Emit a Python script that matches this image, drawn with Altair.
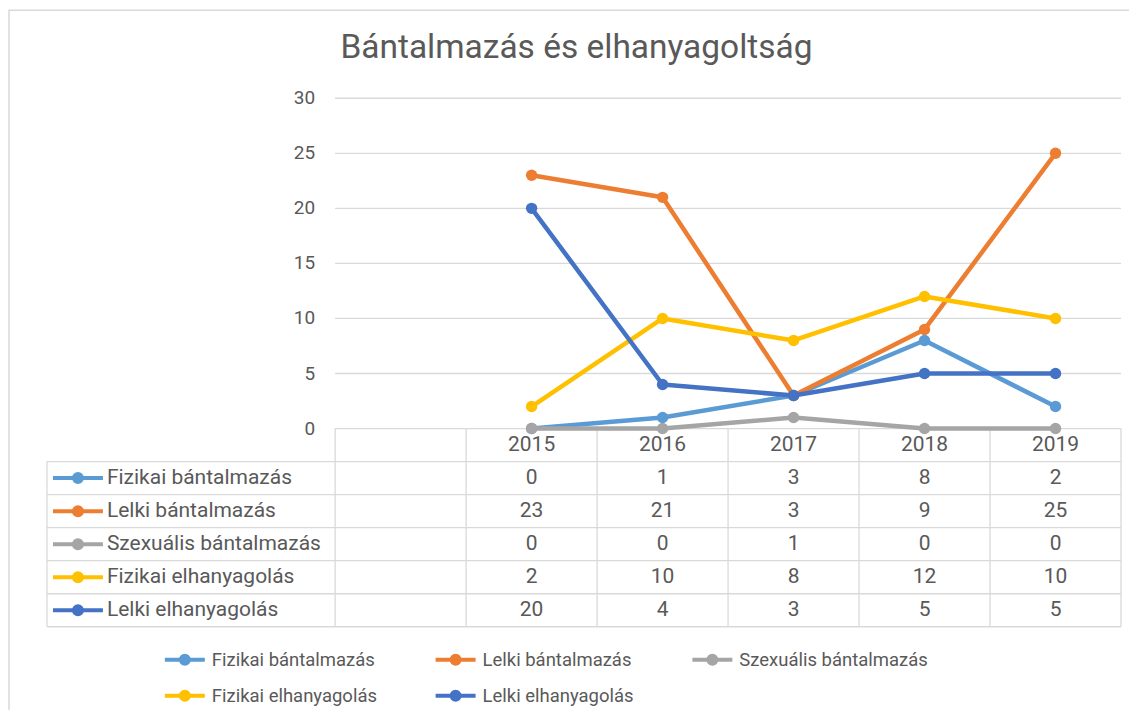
import altair as alt
import pandas as pd

# ---------------- data ----------------
title_text = "Bántalmazás és elhanyagoltság"
years = ["2015", "2016", "2017", "2018", "2019"]
series_names = [
    "Fizikai bántalmazás",
    "Lelki bántalmazás",
    "Szexuális bántalmazás",
    "Fizikai elhanyagolás",
    "Lelki elhanyagolás",
]
fizikai_bantalmazas = [0, 1, 3, 8, 2]
lelki_bantalmazas = [23, 21, 3, 9, 25]
szexualis_bantalmazas = [0, 0, 1, 0, 0]
fizikai_elhanyagolas = [2, 10, 8, 12, 10]
lelki_elhanyagolas = [20, 4, 3, 5, 5]
series_values = [
    fizikai_bantalmazas,
    lelki_bantalmazas,
    szexualis_bantalmazas,
    fizikai_elhanyagolas,
    lelki_elhanyagolas,
]
y_ticks = [0, 5, 10, 15, 20, 25, 30]
colors = ["#5B9BD5", "#ED7D31", "#A5A5A5", "#FFC000", "#4472C4"]

# ---------------- layout constants ----------------
TEXT = "#595959"
GRID = "#D9D9D9"
FONT = "Roboto"
W, H = 1075, 529
LABEL_COLS = 2.2      # width of the table's label column, in category units
BLANK_COLS = 1        # empty category before the first year
ROW_H = 3             # table row height, in value units
ncols = BLANK_COLS + len(years)
nrows = len(series_names) + 1

xs = alt.Scale(domain=[-LABEL_COLS, ncols], nice=False, zero=False)
ys = alt.Scale(domain=[-ROW_H * nrows, y_ticks[-1]], nice=False, zero=False)
cs = alt.Scale(domain=series_names, range=colors)

# ---------------- tables built from the arrays ----------------
rows = []
for i, (s, vals) in enumerate(zip(series_names, series_values)):
    for j, (yr, v) in enumerate(zip(years, vals)):
        rows.append({"series": s, "year": yr, "value": v,
                     "xc": BLANK_COLS + j + 0.5,
                     "yc": -ROW_H * (i + 1) - ROW_H / 2,
                     "label": str(v)})
df = pd.DataFrame(rows)

seg = []
for t in y_ticks:
    seg.append(dict(x0=0, x1=ncols, y0=t, y1=t))
for r in range(1, nrows + 1):
    seg.append(dict(x0=-LABEL_COLS, x1=ncols, y0=-ROW_H * r, y1=-ROW_H * r))
seg.append(dict(x0=-LABEL_COLS, x1=-LABEL_COLS, y0=-ROW_H, y1=-ROW_H * nrows))
for c in range(0, ncols + 1):
    seg.append(dict(x0=c, x1=c, y0=0, y1=-ROW_H * nrows))
seg_df = pd.DataFrame(seg)

tick_df = pd.DataFrame({"y": y_ticks, "x": [0] * len(y_ticks),
                        "label": [str(t) for t in y_ticks]})
head_df = pd.DataFrame({"year": years,
                        "x": [BLANK_COLS + j + 0.5 for j in range(len(years))],
                        "y": [-ROW_H / 2] * len(years)})
lab_df = pd.DataFrame({"series": series_names,
                       "x": [-LABEL_COLS] * len(series_names),
                       "y": [-ROW_H * (i + 1) - ROW_H / 2 for i in range(len(series_names))]})

# legend / key symbol: a line with a dot (dot drawn as concentric rings)
LEG_PATH = ("M-1,0H1"
            "M0.2,0A0.2,0.2,0,1,1,-0.2,0A0.2,0.2,0,1,1,0.2,0"
            "M0.08,0A0.08,0.08,0,1,1,-0.08,0A0.08,0.08,0,1,1,0.08,0")
KEY_PATH = ("M-1,0H1"
            "M0.16,0A0.16,0.16,0,1,1,-0.16,0A0.16,0.16,0,1,1,0.16,0"
            "M0.06,0A0.06,0.06,0,1,1,-0.06,0A0.06,0.06,0,1,1,0.06,0")

leg = alt.Legend(
    title=None, orient="none", legendX=116, legendY=540,
    direction="horizontal", columns=3,
    symbolType=LEG_PATH, symbolSize=1600, symbolStrokeWidth=4,
    symbolFillColor="transparent",
    labelFontSize=18.5, labelColor=TEXT, labelFont=FONT, labelOffset=5,
    labelLimit=400,
    columnPadding=50, rowPadding=2, symbolOpacity=1,
)

# ---------------- layers ----------------
border = alt.Chart(pd.DataFrame({"k": [0]})).mark_rect(
    fill="transparent", stroke=GRID, strokeWidth=1.5
).encode(x=alt.value(-38), x2=alt.value(1300), y=alt.value(-88), y2=alt.value(900))

title_layer = alt.Chart(pd.DataFrame({"t": [title_text]})).mark_text(
    align="center", baseline="alphabetic", fontSize=33.5, font=FONT, color=TEXT
).encode(x=alt.value(530), y=alt.value(-40), text="t:N")

lines_layer = alt.Chart(seg_df).mark_rule(color=GRID, strokeWidth=1.3).encode(
    x=alt.X("x0:Q", scale=xs, axis=None), x2="x1:Q",
    y=alt.Y("y0:Q", scale=ys, axis=None), y2="y1:Q",
)

ticks_layer = alt.Chart(tick_df).mark_text(
    align="right", baseline="middle", dx=-20, fontSize=19, font=FONT, color=TEXT
).encode(x=alt.X("x:Q", scale=xs, axis=None), y=alt.Y("y:Q", scale=ys, axis=None), text="label:N")

head_layer = alt.Chart(head_df).mark_text(
    align="center", baseline="middle", fontSize=21, font=FONT, color=TEXT
).encode(x=alt.X("x:Q", scale=xs, axis=None), y=alt.Y("y:Q", scale=ys, axis=None), text="year:N")

cell_layer = alt.Chart(df).mark_text(
    align="center", baseline="middle", fontSize=21, font=FONT, color=TEXT
).encode(x=alt.X("xc:Q", scale=xs, axis=None), y=alt.Y("yc:Q", scale=ys, axis=None), text="label:N")

lab_layer = alt.Chart(lab_df).mark_text(
    align="left", baseline="middle", dx=60, fontSize=21, font=FONT, color=TEXT
).encode(x=alt.X("x:Q", scale=xs, axis=None), y=alt.Y("y:Q", scale=ys, axis=None), text="series:N")

key_layer = alt.Chart(lab_df).mark_point(
    shape=KEY_PATH, size=2500, filled=False, strokeWidth=4, opacity=1
).encode(x=alt.value(31), y=alt.Y("y:Q", scale=ys, axis=None),
         color=alt.Color("series:N", scale=cs, legend=leg))

series_layers = []
for s in series_names:
    base = alt.Chart(df).transform_filter(alt.datum.series == s)
    ln = base.mark_line(strokeWidth=4.5, strokeCap="round", strokeJoin="round").encode(
        x=alt.X("xc:Q", scale=xs, axis=None),
        y=alt.Y("value:Q", scale=ys, axis=None),
        color=alt.Color("series:N", scale=cs, legend=leg),
        order="xc:Q",
    )
    pt = base.mark_point(filled=True, size=130, opacity=1).encode(
        x=alt.X("xc:Q", scale=xs, axis=None),
        y=alt.Y("value:Q", scale=ys, axis=None),
        color=alt.Color("series:N", scale=cs, legend=leg),
    )
    series_layers += [ln, pt]

chart = alt.layer(
    border, title_layer, lines_layer, ticks_layer, head_layer, cell_layer, lab_layer,
    key_layer, *series_layers,
).properties(
    width=W, height=H,
    background="white",
    autosize=alt.AutoSizeParams(type="none"),
    padding={"left": 39, "top": 90, "right": 8, "bottom": 83},
).configure_view(stroke="transparent", strokeWidth=0)

chart.save("out.html", embed_options={"renderer": "svg", "actions": False})
